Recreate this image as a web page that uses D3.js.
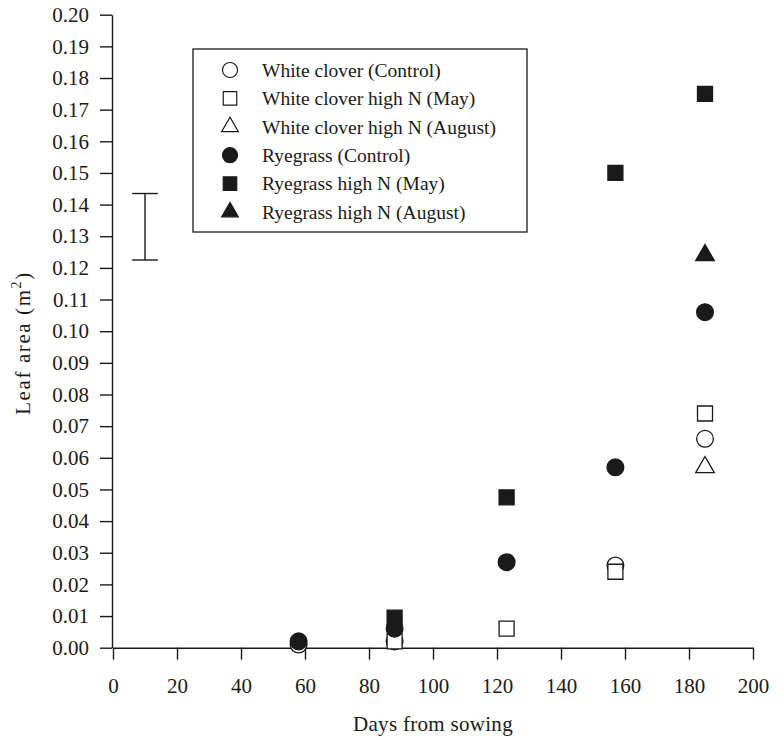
<!DOCTYPE html>
<head>
    <meta charset="utf-8">
    <script src="https://d3js.org/d3.v7.min.js"></script>
</head>
<style>
    body { margin: 0; background: #fff; }
    text { font-family: "Liberation Serif", "Times New Roman", serif; fill: #1a1a1a; }
    .axis path, .axis line { stroke: #1a1a1a; stroke-width: 1.4; }
</style>
<body>
    <div id="chart"></div>
</body>

<script>
    // days from sowing
    const days = [58, 88, 123, 157, 185];

    // leaf area (m2), null = not measured / not visible
    const whiteCloverControl = [0.001, 0.002, null, 0.026, 0.066];
    const whiteCloverMay     = [null, 0.002, 0.006, 0.024, 0.074];
    const whiteCloverAug     = [null, null, null, null, 0.057];
    const ryegrassControl    = [0.002, 0.006, 0.027, 0.057, 0.106];
    const ryegrassMay        = [null, 0.0095, 0.0475, 0.150, 0.175];
    const ryegrassAug        = [null, null, null, null, 0.124];

    const seriesNames = [
        "White clover (Control)",
        "White clover high N (May)",
        "White clover high N (August)",
        "Ryegrass (Control)",
        "Ryegrass high N (May)",
        "Ryegrass high N (August)"
    ];
    const seriesValues = [whiteCloverControl, whiteCloverMay, whiteCloverAug,
                          ryegrassControl, ryegrassMay, ryegrassAug];
    const seriesShapes = ["circle", "square", "triangle", "circle", "square", "triangle"];
    const seriesFilled = [false, false, false, true, true, true];

    // LSD bar
    const errDay = 10, errLow = 0.1225, errHigh = 0.1435;

    const xTicks = d3.range(0, 201, 20);
    const yTicks = d3.range(0, 0.2001, 0.01);

    const W = 784, H = 740;
    const svg = d3.select("#chart").append("svg")
        .attr("width", W).attr("height", H);

    const x = d3.scaleLinear().domain([0, 200]).range([113, 753]);
    const y = d3.scaleLinear().domain([0, 0.20]).range([647.7, 14.7]);

    // axes
    svg.append("g")
        .attr("class", "axis")
        .attr("transform", `translate(0,${y(0)})`)
        .call(d3.axisBottom(x).tickValues(xTicks).tickSize(12).tickSizeOuter(0).tickPadding(18))
        .call(g => g.selectAll("text").style("font-size", "21px").attr("fill", "#1a1a1a"));

    svg.append("g")
        .attr("class", "axis")
        .attr("transform", `translate(${x(0) - 1},0)`)
        .call(d3.axisLeft(y).tickValues(yTicks).tickFormat(d3.format(".2f"))
            .tickSize(12).tickSizeOuter(0).tickPadding(11))
        .call(g => g.selectAll("text").style("font-size", "21px").attr("fill", "#1a1a1a"));

    // axis titles
    svg.append("text")
        .attr("x", x(100)).attr("y", 731)
        .attr("text-anchor", "middle")
        .style("font-size", "21px")
        .style("letter-spacing", "0.3px")
        .text("Days from sowing");

    const yl = svg.append("text")
        .attr("transform", "translate(30,343) rotate(-90)")
        .attr("text-anchor", "middle")
        .style("font-size", "21px")
        .style("letter-spacing", "1.6px");
    yl.append("tspan").text("Leaf area (m");
    yl.append("tspan").attr("dy", -9).style("font-size", "14px").text("2");
    yl.append("tspan").attr("dy", 9).text(")");

    // symbol helper
    function symbolPath(shape) {
        if (shape === "circle") return d3.symbol(d3.symbolCircle, 220)();
        if (shape === "square") return d3.symbol(d3.symbolSquare, 225)();
        return d3.symbol(d3.symbolTriangle, 150)();
    }

    // error bar
    const eb = svg.append("g").attr("stroke", "#1a1a1a").attr("stroke-width", 1.4);
    eb.append("line").attr("x1", x(errDay)).attr("x2", x(errDay)).attr("y1", y(errLow)).attr("y2", y(errHigh));
    eb.append("line").attr("x1", x(errDay - 4)).attr("x2", x(errDay + 4)).attr("y1", y(errLow)).attr("y2", y(errLow));
    eb.append("line").attr("x1", x(errDay - 4)).attr("x2", x(errDay + 4)).attr("y1", y(errHigh)).attr("y2", y(errHigh));

    // points
    seriesValues.forEach((vals, i) => {
        const pts = days.map((d, j) => ({day: d, v: vals[j]})).filter(p => p.v != null);
        svg.append("g").selectAll("path")
            .data(pts)
            .join("path")
            .attr("d", symbolPath(seriesShapes[i]))
            .attr("transform", p => `translate(${x(p.day)},${y(p.v)})`)
            .attr("fill", seriesFilled[i] ? "#1a1a1a" : "#fff")
            .attr("stroke", "#1a1a1a")
            .attr("stroke-width", 1.3);
    });

    // legend
    const lg = svg.append("g");
    lg.append("rect")
        .attr("x", 193).attr("y", 49).attr("width", 334).attr("height", 183)
        .attr("fill", "#fff").attr("stroke", "#1a1a1a").attr("stroke-width", 1.3);
    seriesNames.forEach((name, i) => {
        const cy = 70 + i * 28.4;
        lg.append("path")
            .attr("d", symbolPath(seriesShapes[i]))
            .attr("transform", `translate(230,${cy}) scale(0.9)`)
            .attr("fill", seriesFilled[i] ? "#1a1a1a" : "#fff")
            .attr("stroke", "#1a1a1a")
            .attr("stroke-width", 1.3);
        lg.append("text")
            .attr("x", 262).attr("y", cy)
            .attr("dy", "0.35em")
            .style("font-size", "19.5px")
            .text(name);
    });
</script>
